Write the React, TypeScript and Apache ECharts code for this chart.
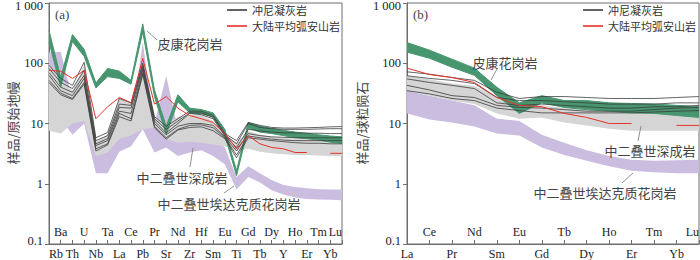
import React, { useEffect, useRef } from "react";
import * as echarts from "echarts";

// ---------- categories ----------
const elementsA = ["Rb","Ba","Th","U","Nb","Ta","La","Ce","Pb","Pr","Sr","Nd","Zr","Hf","Sm","Eu","Ti","Gd","Tb","Dy","Y","Ho","Er","Tm","Yb","Lu"];
const elementsB = ["La","Ce","Pr","Nd","Sm","Eu","Gd","Tb","Dy","Ho","Er","Tm","Yb","Lu"];
const yTickLabels = ["0.1", "1", "10", "100", "1 000"];

// ---------- panel (a): primitive-mantle normalised ----------
const aGreenUpper = [350, 58, 300, 170, 47, 82, 74, 52, 450, 36, 9, 30, 18, 17, 15, 8, 1.65, 10.4, 9, 8.3, 7.7, 7.2, 6.9, 6.5, 6.2, 6];
const aGreenLower = [225, 40, 230, 130, 39, 60, 56, 45, 330, 28, 6.6, 23, 15, 14.5, 13, 6.5, 1.36, 8.4, 7.2, 6.8, 6.3, 5.8, 5.6, 5.3, 4.9, 4.7];
const aGrayUpper = [92, 55, 35, 95, 5, 6.5, 27, 22, 90, 13, 9.5, 13, 14, 14, 11, 6.5, 4.8, 7.5, 6.5, 6, 5.8, 5.6, 5.5, 5.4, 5.3, 5.2];
const aGrayLower = [7.6, 6.8, 10, 11, 2.9, 3.3, 5.6, 6.3, 8, 8.6, 5.6, 4.8, 5, 4.8, 4.5, 4.2, 3.5, 3.8, 3.4, 3.2, 3.1, 3, 3, 2.95, 2.9, 2.9];
const aPurpleUpper = [150, 155, 25, 20, 4, 4, 8, 10, 220, 10, 62, 8, 8, 7, 6, 4, 1.3, 1.95, 1.5, 1.15, 0.95, 0.88, 0.84, 0.81, 0.8, 0.8];
const aPurpleLower = [12, 12, 6.5, 10, 1.5, 1.5, 3.4, 4.2, 8, 3.3, 4, 2.9, 3.3, 3.6, 2.9, 2.1, 0.8, 1.3, 1.05, 0.78, 0.66, 0.59, 0.56, 0.55, 0.54, 0.53];
const aArc = [76, 74, 56, 76, 12, 19, 27, 22, 120, 21, 28, 18, 13.6, 12, 10.4, 6.8, 3.8, 6.3, 4.6, 4, 3.8, 3.3, 3.3, null, 3.2, 3.2];
const aTuff1 = [92, 56, 43, 104, 5.8, 7.1, 26, 22, 100, 13, 9, 12, 16, 16, 13.6, 6.8, 5.2, 10.4, 9.3, 8.6, 8.4, 8.4, 8.5, 8.6, 8.8, 8.9];
const aTuff2 = [82, 48, 38, 76, 5.2, 6.3, 21, 20, 92, 12, 8, 11, 15, 15, 12.6, 6.5, 4.6, 10, 8.6, 8.2, 8, 8, 8, 8.1, 8.2, 8.2];
const aTuff3 = [70, 40, 33, 63, 4.6, 5.6, 18.5, 18, 85, 11, 7, 10, 14.7, 14, 12, 6.2, 4, 8, 7.5, 7.2, 7, 7, 6.9, 6.9, 6.8, 6.8];
const aTuff4 = [63, 35, 29, 56, 4.3, 5.2, 16, 14.7, 78, 10, 6.5, 9, 10, 10, 9.3, 6, 3.5, 6.8, 6.3, 6, 5.9, 5.8, 5.8, 5.8, 5.8, 5.8];
const aTuff5 = [52, 32, 26, 48, 3.8, 4.6, 14.7, 12, 70, 9, 5.8, 8, 9.3, 9.5, 8.5, 5.8, 3, 6.2, 5.8, 5.5, 5.3, 5.2, 5.2, 5.2, 5.2, 5.2];
const aTuff6 = [48, 30, 25, 45, 3.5, 4.4, 13, 11, 65, 8.5, 5.5, 7.8, 8.6, 8.8, 7.6, 5.6, 2.7, 5.8, 5.5, 5.2, 5, 4.8, 4.7, 4.7, 4.6, 4.6];

// ---------- panel (b): chondrite normalised ----------
const bGreenUpper = [220, 165, 117, 83, 40, 22, 29, 24, 24, 22, 21.5, 21, 20, 19];
const bGreenLower = [153, 121, 86, 63, 29, 14.7, 22, 18.5, 17, 16, 15, 14.7, 13.6, 12.6];
const bGrayUpper = [62, 54, 46, 42, 28, 22, 20, 18, 17, 16.5, 16, 16, 16, 16];
const bGrayLower = [35, 29, 24, 21, 14.7, 12, 12.6, 10.4, 9.3, 8.2, 7.6, 7.6, 7.6, 7.6];
const bPurpleUpper = [35, 29, 24, 20, 12, 11, 6.5, 4.8, 3.6, 2.9, 2.5, 2.4, 2.45, 2.5];
const bPurpleLower = [14.7, 11.6, 10.4, 8.9, 6.8, 6.3, 4, 3, 2.4, 1.95, 1.65, 1.55, 1.5, 1.5];
const bArc = [83, 65, 58, 48, 27, 20, 19, 14.7, 12.6, 10, 10, null, 9.3, 9.3];
const bTuff1 = [72, 66, 58, 52, 33, 26, 28, 28, 27, 26, 26, 26, 27, 28];
const bTuff2 = [62, 56, 52, 46, 27, 24, 24, 23, 22, 21, 21, 21, 22, 22];
const bTuff3 = [55, 48, 43, 38, 22, 20, 21, 20, 19, 18, 18, 19, 19, 20];
const bTuff4 = [43, 36, 29, 27, 20, 18.5, 18, 17, 16, 16, 16, 17, 18, 18.5];
const bTuff5 = [35, 31, 26, 24, 18, 16.4, 15, 15, 15, 15, 15, 15.5, 16, 16.4];

const TUFF = "冲尼凝灰岩";
const ARC = "大陆平均弧安山岩";

const GREEN = "#47966f";
const GRAY = "#d5d5d5";
const PURPLE = "#cbbddf";
const BLACK = "#3c3c3c";
const RED = "#e5332a";
const AXIS = "#6e6e6e";
const SERIF = '"Liberation Serif", "Times New Roman", serif';
const CJK = '"Noto Sans CJK SC", sans-serif';

function band(id: string, lower: number[], upper: number[], color: string, xi: number, yi: number, edge: boolean) {
  const diff = upper.map((u, i) => +(u - lower[i]).toFixed(4));
  const ls = edge ? { color, width: 1 } : { width: 0, opacity: 0 };
  return [
    { type: "line", name: id + "_lo", xAxisIndex: xi, yAxisIndex: yi, data: lower, stack: id, symbol: "none", lineStyle: ls, silent: true },
    { type: "line", name: id + "_hi", xAxisIndex: xi, yAxisIndex: yi, data: diff, stack: id, symbol: "none", lineStyle: ls, areaStyle: { color, opacity: 1 }, silent: true },
  ];
}

function lineSeries(name: string, data: (number | null)[], color: string, width: number, xi: number, yi: number) {
  return { type: "line", name, xAxisIndex: xi, yAxisIndex: yi, data, symbol: "none", connectNulls: false, lineStyle: { color, width }, itemStyle: { color }, silent: true };
}

function xAxes(cats: string[], gridIndex: number, alignMin: boolean) {
  const common = {
    type: "category",
    gridIndex,
    data: cats,
    boundaryGap: false,
    position: "bottom",
  };
  return [
    {
      ...common,
      axisLine: { show: true, lineStyle: { color: AXIS, width: 1 } },
      axisTick: { show: true, inside: true, length: 4, interval: 0, lineStyle: { color: AXIS } },
      axisLabel: {
        interval: (i: number) => i % 2 === 0,
        margin: 4,
        fontFamily: SERIF,
        fontSize: 12,
        lineHeight: 12,
        color: "#222",
        alignMinLabel: alignMin ? "left" : undefined,
      },
      splitLine: { show: false },
    },
    {
      ...common,
      axisLine: { show: false },
      axisTick: { show: false },
      axisLabel: {
        inside: true,
        interval: (i: number) => i % 2 === 1,
        margin: 6,
        fontFamily: SERIF,
        fontSize: 12,
        lineHeight: 12,
        color: "#222",
        alignMaxLabel: "right",
      },
      splitLine: { show: false },
    },
  ];
}

function yAxis(gridIndex: number) {
  const base = { fontFamily: SERIF, fontSize: 12.5, color: "#222", lineHeight: 13 };
  return {
    type: "log",
    logBase: 10,
    gridIndex,
    min: 0.1,
    max: 1000,
    axisLine: { show: true, lineStyle: { color: AXIS, width: 1 } },
    axisTick: { show: true, inside: false, length: 4, lineStyle: { color: AXIS } },
    minorTick: { show: false },
    splitLine: { show: false },
    axisLabel: {
      margin: 6,
      ...base,
      formatter: (v: number) => {
        const k = Math.round(Math.log10(v)) + 1;
        const t = yTickLabels[k];
        if (k === yTickLabels.length - 1) return `{top|${t}}`;
        if (k === 0) return `{bot|${t}}`;
        return t;
      },
      rich: {
        top: { ...base, padding: [5, 0, 0, 0] },
        bot: { ...base, padding: [0, 0, 7, 0] },
      },
    },
  };
}

function txt(x: number, y: number, text: string, size = 13, font = CJK, align = "center", rotation = 0) {
  return { type: "text", x, y, rotation, z: 100, style: { text, font: `${size}px ${font}`, fill: "#444", align, verticalAlign: "middle" } };
}
function leader(x1: number, y1: number, x2: number, y2: number) {
  return { type: "line", z: 100, shape: { x1, y1, x2, y2 }, style: { stroke: "#777", lineWidth: 0.8 } };
}

export default function App() {
  const ref = useRef<HTMLDivElement>(null);
  useEffect(() => {
    if (!ref.current) return;
    const chart = echarts.init(ref.current, undefined, { renderer: "svg" });
    const series: any[] = [
      ...band("aP", aPurpleLower, aPurpleUpper, PURPLE, 0, 0, false),
      ...band("aG", aGrayLower, aGrayUpper, GRAY, 0, 0, false),
      ...band("aE", aGreenLower, aGreenUpper, GREEN, 0, 0, true),
      ...[aTuff1, aTuff2, aTuff3, aTuff4, aTuff5, aTuff6].map((d) => lineSeries(TUFF, d, BLACK, 0.8, 0, 0)),
      lineSeries(ARC, aArc, RED, 1, 0, 0),
      ...band("bP", bPurpleLower, bPurpleUpper, PURPLE, 2, 1, false),
      ...band("bG", bGrayLower, bGrayUpper, GRAY, 2, 1, false),
      ...band("bE", bGreenLower, bGreenUpper, GREEN, 2, 1, true),
      ...[bTuff1, bTuff2, bTuff3, bTuff4, bTuff5].map((d) => lineSeries(TUFF, d, BLACK, 0.8, 2, 1)),
      lineSeries(ARC, bArc, RED, 1, 2, 1),
    ];
    const legendCommon = {
      data: [TUFF, ARC],
      orient: "vertical",
      top: 4,
      icon: "rect",
      itemWidth: 20,
      itemHeight: 1.6,
      itemGap: 4,
      padding: 0,
      selectedMode: false,
      textStyle: { fontFamily: CJK, fontSize: 11, lineHeight: 12, color: "#333" },
    };
    chart.setOption({
      animation: false,
      backgroundColor: "#fff",
      grid: [
        { left: 49, top: 3, width: 293, height: 241, show: true, borderColor: AXIS, borderWidth: 1, outerBoundsMode: "none" },
        { left: 407, top: 3, width: 292, height: 241, show: true, borderColor: AXIS, borderWidth: 1, outerBoundsMode: "none" },
      ],
      xAxis: [...xAxes(elementsA, 0, true), ...xAxes(elementsB, 1, false)],
      yAxis: [yAxis(0), yAxis(1)],
      legend: [
        { ...legendCommon, left: 227 },
        { ...legendCommon, left: 583 },
      ],
      series,
      graphic: [
        txt(12, 123, "样品/原始地幔", 13, CJK, "center", Math.PI / 2),
        txt(361, 123, "样品/球粒陨石", 13, CJK, "center", Math.PI / 2),
        txt(55, 14, "(a)", 13, SERIF, "left"),
        txt(413, 14, "(b)", 13, SERIF, "left"),
        txt(190, 43, "皮康花岗岩"),
        leader(157, 40, 147, 31),
        txt(182, 177, "中二叠世深成岩"),
        leader(190, 167, 193, 148),
        txt(229, 203, "中二叠世埃达克质花岗岩"),
        leader(224, 193, 234, 186),
        txt(505, 62, "皮康花岗岩"),
        leader(497, 69, 491, 80),
        txt(650, 150, "中二叠世深成岩"),
        leader(638, 141, 641, 126),
        txt(605, 192, "中二叠世埃达克质花岗岩"),
        leader(622, 183, 633, 173),
      ],
    });
    return () => chart.dispose();
  }, []);
  return (
    <div
      ref={ref}
      style={{ position: "fixed", left: 0, top: 0, width: 700, height: 260, background: "#fff" }}
    />
  );
}
